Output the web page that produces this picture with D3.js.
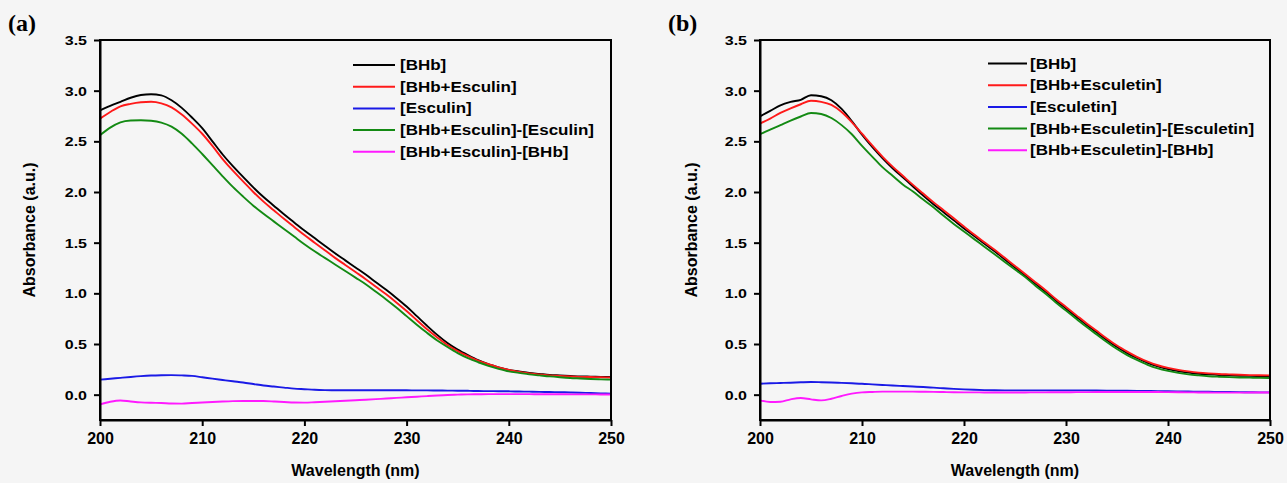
<!DOCTYPE html>
<html>
<head>
<meta charset="utf-8">
<script src="https://cdn.jsdelivr.net/npm/d3@7"></script>
<style>
  html, body { margin: 0; padding: 0; background: #f5f5f5; }
  svg { display: block; }
  text { font-family: Arial, "Liberation Sans", sans-serif; font-weight: bold; fill: #000; }
</style>
</head>
<body>
<svg id="chart" width="1287" height="483"></svg>
<script>
// Wavelength grid (nm), shared by every spectrum
const wavelengths = [
  200, 201, 202, 203, 204, 205, 206, 207, 208, 209,
  210, 211, 212, 213, 214, 215, 216, 217, 218, 219,
  220, 221, 222, 223, 224, 225, 226, 227, 228, 229,
  230, 231, 232, 233, 234, 235, 236, 237, 238, 239,
  240, 241, 242, 243, 244, 245, 246, 247, 248, 249, 250
];

// ---- Panel (a): BHb / Esculin ----
const bhbA = [
  2.806, 2.85, 2.89, 2.93, 2.957, 2.965, 2.953, 2.905, 2.83, 2.735,
  2.63, 2.50, 2.37, 2.255, 2.15, 2.045, 1.95, 1.865, 1.78, 1.70,
  1.62, 1.545, 1.47, 1.395, 1.325, 1.255, 1.185, 1.11, 1.035, 0.955,
  0.87, 0.775, 0.68, 0.59, 0.51, 0.445, 0.39, 0.34, 0.30, 0.27,
  0.245, 0.23, 0.215, 0.205, 0.195, 0.19, 0.185, 0.18, 0.178, 0.176, 0.174
];
const bhbEsculinA = [
  2.724, 2.79, 2.846, 2.87, 2.885, 2.89, 2.875, 2.835, 2.765, 2.675,
  2.575, 2.455, 2.325, 2.21, 2.105, 2.00, 1.905, 1.82, 1.735, 1.655,
  1.575, 1.50, 1.425, 1.35, 1.28, 1.21, 1.14, 1.065, 0.99, 0.91,
  0.825, 0.735, 0.645, 0.565, 0.49, 0.43, 0.38, 0.335, 0.30, 0.27,
  0.245, 0.225, 0.21, 0.20, 0.19, 0.185, 0.18, 0.176, 0.174, 0.172, 0.17
];
const esculinA = [
  0.148, 0.157, 0.166, 0.175, 0.183, 0.189, 0.192, 0.193, 0.19, 0.185,
  0.172, 0.158, 0.145, 0.132, 0.12, 0.105, 0.09, 0.08, 0.07, 0.06,
  0.054, 0.048, 0.045, 0.044, 0.043, 0.043, 0.043, 0.043, 0.043, 0.043,
  0.043, 0.042, 0.042, 0.041, 0.04, 0.039, 0.038, 0.036, 0.035, 0.034,
  0.033, 0.031, 0.03, 0.028, 0.026, 0.024, 0.022, 0.019, 0.016, 0.013, 0.01
];
const bhbEsculinMinusEsculinA = [
  2.56, 2.635, 2.687, 2.705, 2.708, 2.703, 2.685, 2.645, 2.575, 2.48,
  2.375, 2.265, 2.155, 2.05, 1.955, 1.865, 1.785, 1.71, 1.635, 1.56,
  1.485, 1.415, 1.35, 1.285, 1.22, 1.155, 1.09, 1.015, 0.94, 0.86,
  0.775, 0.69, 0.61, 0.535, 0.47, 0.41, 0.36, 0.32, 0.285, 0.255,
  0.23, 0.215, 0.20, 0.19, 0.18, 0.172, 0.165, 0.16, 0.155, 0.151, 0.148
];
const bhbEsculinMinusBhbA = [
  -0.096, -0.07, -0.057, -0.067, -0.076, -0.08, -0.082, -0.087, -0.088, -0.082,
  -0.078, -0.073, -0.068, -0.064, -0.062, -0.062, -0.063, -0.067, -0.072, -0.078,
  -0.079, -0.075, -0.07, -0.065, -0.06, -0.055, -0.05, -0.044, -0.038, -0.032,
  -0.026, -0.02, -0.014, -0.008, -0.003, 0.0, 0.003, 0.004, 0.005, 0.005,
  0.005, 0.005, 0.005, 0.004, 0.004, 0.004, 0.003, 0.003, 0.003, 0.002, 0.002
];
const labelsA = [
  "[BHb]", "[BHb+Esculin]", "[Esculin]",
  "[BHb+Esculin]-[Esculin]", "[BHb+Esculin]-[BHb]"
];

// ---- Panel (b): BHb / Esculetin ----
const bhbB = [
  2.747, 2.80, 2.856, 2.889, 2.91, 2.955, 2.945, 2.905, 2.82, 2.70,
  2.565, 2.445, 2.335, 2.235, 2.145, 2.055, 1.965, 1.88, 1.80, 1.72,
  1.64, 1.565, 1.49, 1.415, 1.335, 1.255, 1.175, 1.095, 1.015, 0.93,
  0.85, 0.77, 0.69, 0.615, 0.54, 0.47, 0.41, 0.36, 0.315, 0.28,
  0.252, 0.232, 0.218, 0.207, 0.20, 0.194, 0.19, 0.187, 0.185, 0.184, 0.183
];
const bhbEsculetinB = [
  2.675, 2.725, 2.78, 2.825, 2.866, 2.90, 2.89, 2.86, 2.79, 2.69,
  2.575, 2.46, 2.35, 2.25, 2.16, 2.07, 1.985, 1.90, 1.82, 1.74,
  1.66, 1.58, 1.505, 1.43, 1.35, 1.27, 1.19, 1.11, 1.03, 0.945,
  0.865, 0.785, 0.705, 0.63, 0.555, 0.485, 0.425, 0.37, 0.325, 0.29,
  0.265, 0.245, 0.23, 0.218, 0.21, 0.204, 0.20, 0.196, 0.193, 0.191, 0.19
];
const esculetinB = [
  0.108, 0.112, 0.115, 0.118, 0.122, 0.125, 0.123, 0.12, 0.116, 0.112,
  0.108, 0.102, 0.096, 0.09, 0.085, 0.08, 0.075, 0.069, 0.063, 0.057,
  0.052, 0.048, 0.045, 0.043, 0.042, 0.042, 0.042, 0.042, 0.042, 0.042,
  0.042, 0.042, 0.042, 0.041, 0.04, 0.039, 0.038, 0.037, 0.036, 0.035,
  0.033, 0.032, 0.031, 0.03, 0.029, 0.027, 0.026, 0.025, 0.024, 0.023, 0.023
];
const bhbEsculetinMinusEsculetinB = [
  2.57, 2.615, 2.66, 2.705, 2.745, 2.78, 2.77, 2.73, 2.66, 2.57,
  2.455, 2.35, 2.245, 2.16, 2.075, 2.005, 1.925, 1.85, 1.765, 1.685,
  1.61, 1.535, 1.46, 1.385, 1.31, 1.235, 1.16, 1.075, 0.995, 0.91,
  0.83, 0.75, 0.67, 0.595, 0.52, 0.45, 0.39, 0.34, 0.295, 0.26,
  0.235, 0.215, 0.20, 0.19, 0.182, 0.177, 0.173, 0.17, 0.168, 0.166, 0.165
];
const bhbEsculetinMinusBhbB = [
  -0.056, -0.072, -0.07, -0.046, -0.033, -0.046, -0.056, -0.04, -0.013, 0.01,
  0.023, 0.027, 0.03, 0.03, 0.03, 0.03, 0.029, 0.028, 0.026, 0.024,
  0.023, 0.023, 0.022, 0.022, 0.022, 0.022, 0.022, 0.023, 0.023, 0.024,
  0.024, 0.025, 0.025, 0.026, 0.026, 0.026, 0.026, 0.026, 0.026, 0.026,
  0.025, 0.024, 0.023, 0.022, 0.021, 0.02, 0.02, 0.02, 0.021, 0.022, 0.022
];
const labelsB = [
  "[BHb]", "[BHb+Esculetin]", "[Esculetin]",
  "[BHb+Esculetin]-[Esculetin]", "[BHb+Esculetin]-[BHb]"
];

// Axis ticks and series colours
const xTicks = [200, 210, 220, 230, 240, 250];
const yTicks = [0.0, 0.5, 1.0, 1.5, 2.0, 2.5, 3.0, 3.5];
const seriesColors = ["#000000", "#ff1a1a", "#1a1ae6", "#138a13", "#ff1aff"];

const panels = [
  {
    tag: "(a)", tagX: 8, left: 100, right: 611, titleX: 35,
    legendLine: [353, 395], legendText: 400, legendY: 65,
    labels: labelsA,
    series: [bhbA, bhbEsculinA, esculinA, bhbEsculinMinusEsculinA, bhbEsculinMinusBhbA]
  },
  {
    tag: "(b)", tagX: 668, left: 760, right: 1270, titleX: 697,
    legendLine: [988, 1027], legendText: 1030, legendY: 63.5,
    labels: labelsB,
    series: [bhbB, bhbEsculetinB, esculetinB, bhbEsculetinMinusEsculetinB, bhbEsculetinMinusBhbB]
  }
];

const svg = d3.select("#chart");
const plotTop = 40, plotBottom = 420;
const legendStep = 21.7;

panels.forEach(p => {
  const x = d3.scaleLinear().domain([200, 250]).range([p.left, p.right]);
  const y = d3.scaleLinear().domain([-0.25, 3.5]).range([plotBottom, plotTop]);
  const g = svg.append("g");

  // Spectra
  const line = d3.line()
    .x((d, i) => x(wavelengths[i]))
    .y(d => y(d))
    .curve(d3.curveMonotoneX);

  p.series.forEach((vals, k) => {
    g.append("path")
      .datum(vals)
      .attr("d", line)
      .attr("fill", "none")
      .attr("stroke", seriesColors[k])
      .attr("stroke-width", 1.9)
      .attr("stroke-linejoin", "round");
  });

  // Plot frame
  g.append("rect")
    .attr("x", p.left).attr("y", plotTop)
    .attr("width", p.right - p.left).attr("height", plotBottom - plotTop)
    .attr("fill", "none").attr("stroke", "#000").attr("stroke-width", 2);

  // Bottom axis
  const xAxis = g.append("g")
    .attr("transform", `translate(0,${plotBottom})`)
    .call(d3.axisBottom(x).tickValues(xTicks).tickFormat(d3.format("d"))
      .tickSize(6).tickSizeOuter(0).tickPadding(7));
  xAxis.selectAll("path, line").attr("stroke", "#000").attr("stroke-width", 2);
  xAxis.selectAll("text")
    .style("font-size", "16px").style("font-family", "Arial, 'Liberation Sans', sans-serif")
    .style("font-weight", "bold").attr("fill", "#000");

  // Left axis
  const yAxis = g.append("g")
    .attr("transform", `translate(${p.left},0)`)
    .call(d3.axisLeft(y).tickValues(yTicks).tickFormat(d3.format(".1f"))
      .tickSize(6).tickSizeOuter(0).tickPadding(7));
  yAxis.selectAll("path, line").attr("stroke", "#000").attr("stroke-width", 2);
  yAxis.selectAll("text")
    .style("font-size", "16px").style("font-family", "Arial, 'Liberation Sans', sans-serif")
    .style("font-weight", "bold").attr("fill", "#000")
    .attr("transform", "scale(1,0.8)");
  yAxis.selectAll(".tick text").attr("dy", "0.34em");

  // Axis titles
  g.append("text")
    .attr("x", (p.left + p.right) / 2).attr("y", 476)
    .attr("text-anchor", "middle")
    .style("font-size", "16px")
    .text("Wavelength (nm)");

  g.append("text")
    .attr("transform", `translate(${p.titleX},${(plotTop + plotBottom) / 2}) rotate(-90)`)
    .attr("text-anchor", "middle")
    .style("font-size", "16px")
    .text("Absorbance (a.u.)");

  // Panel tag
  g.append("text")
    .attr("x", p.tagX).attr("y", 31)
    .style("font-family", "'Liberation Serif', 'Times New Roman', serif")
    .style("font-size", "24px")
    .text(p.tag);

  // Legend
  p.labels.forEach((lab, k) => {
    const ly = p.legendY + k * legendStep;
    g.append("line")
      .attr("x1", p.legendLine[0]).attr("x2", p.legendLine[1])
      .attr("y1", ly).attr("y2", ly)
      .attr("stroke", seriesColors[k]).attr("stroke-width", 2);
    g.append("g")
      .attr("transform", `translate(${p.legendText},${ly}) scale(1,0.82)`)
      .append("text")
      .attr("dy", "0.36em")
      .style("font-size", "17px")
      .text(lab);
  });
});
</script>
</body>
</html>
